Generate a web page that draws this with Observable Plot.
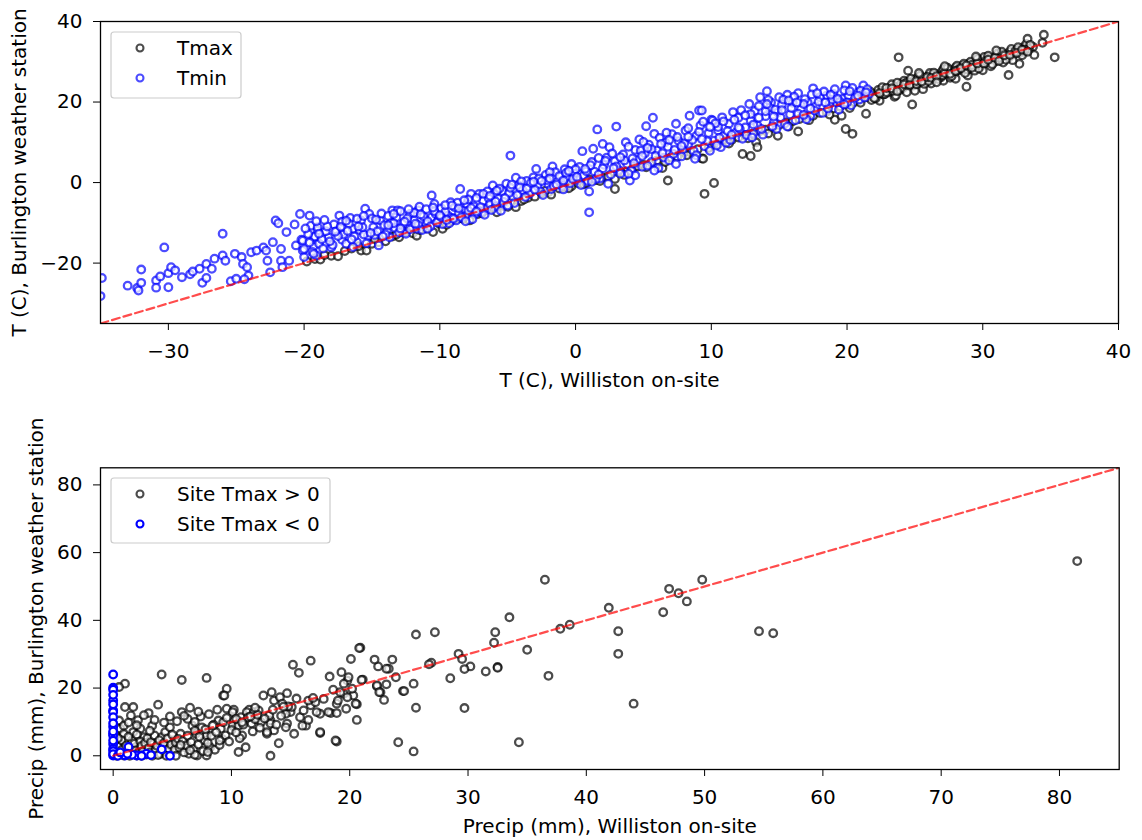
<!DOCTYPE html>
<html>
<head>
<meta charset="utf-8">
<script src="https://cdn.jsdelivr.net/npm/d3@7"></script>
<script src="https://cdn.jsdelivr.net/npm/@observablehq/plot@0.6"></script>
<style>
  body { margin: 0; background: #fff; }
  #wrap { width: 1142px; height: 840px; }
  #wrap svg { display: block; }
</style>
</head>
<body>
<div id="wrap"></div>
<script>
// ---------- Top panel: temperature (Williston on-site, Burlington station) ----------
const tmaxPoints = [
  [-19.8,-19.6],[-19.2,-19.0],[-18.8,-19.1],[-18.0,-18.2],[-17.5,-18.3],[-17.0,-17.0],[-16.5,-16.4],[-15.8,-16.9],[-15.4,-16.9],[-15.0,-15.2],
  [-14.5,-14.8],[-14.0,-14.6],[-13.5,-13.4],[-13.0,-13.6],[-12.5,-12.2],[-12.0,-12.6],[-11.7,-13.2],[-11.0,-11.4],[-10.5,-12.3],[-10.0,-10.3],
  [-9.8,-11.5],[-9.2,-9.6],[-8.6,-8.9],[-8.0,-8.4],[-7.8,-9.4],[-7.2,-7.8],[-6.6,-6.9],[-6.0,-6.4],[-5.8,-7.4],[-5.3,-5.8],
  [-4.8,-5.0],[-4.4,-6.1],[-4.0,-4.6],[-3.5,-3.8],[-3.0,-3.5],[-2.5,-2.6],[-2.0,-2.4],[-1.8,-3.0],[-1.2,-1.5],[-0.8,-1.2],
  [-0.3,-0.9],[0.2,-0.2],[0.6,-0.4],[1.0,0.8],[1.5,0.6],[2.0,1.2],[2.4,1.5],[2.9,-1.6],[2.9,0.9],[3.3,2.6],
  [3.8,2.8],[4.2,3.5],[4.6,4.0],[5.0,4.4],[5.5,4.6],[6.0,5.5],[6.4,3.6],[6.8,0.5],[7.0,6.2],[7.5,6.4],
  [8.0,7.5],[8.5,7.4],[9.0,8.3],[9.3,6.0],[9.4,5.9],[9.5,-2.8],[10.2,-0.1],[10.0,9.2],[10.5,9.5],[11.0,10.4],
  [11.5,10.6],[12.0,11.2],[12.3,7.1],[12.9,6.6],[12.5,11.8],[13.0,12.1],[13.3,10.0],[13.4,8.8],[13.6,12.8],[14.0,13.1],
  [14.5,13.6],[14.9,11.6],[15.0,14.3],[15.5,14.9],[16.0,15.2],[16.4,12.7],[16.5,15.8],[17.0,16.4],[17.5,16.6],[18.0,17.3],
  [18.5,17.6],[19.0,18.4],[19.1,15.6],[19.6,16.6],[19.9,13.3],[20.4,12.1],[19.5,18.9],[20.0,19.4],[20.5,19.9],[21.0,20.6],
  [21.4,17.1],[21.5,21.2],[21.8,20.5],[22.0,22.1],[22.2,21.4],[22.4,20.3],[22.5,22.8],[22.7,21.9],[23.0,23.3],[23.2,22.5],
  [23.5,23.9],[23.5,21.3],[23.6,21.6],[23.8,31.1],[23.8,23.2],[24.0,24.6],[24.3,23.9],[24.5,27.8],[24.5,25.0],[24.8,19.4],
  [24.8,24.3],[25.0,25.6],[25.3,24.8],[25.6,23.2],[25.5,26.0],[25.8,25.4],[26.0,26.5],[26.3,25.8],[26.5,27.0],[26.8,26.3],
  [27.0,27.6],[27.1,25.3],[27.3,26.9],[27.5,28.0],[27.8,27.4],[28.0,28.6],[28.3,27.9],[28.5,29.0],[28.8,23.8],[28.9,26.6],
  [28.8,28.4],[29.0,29.6],[29.3,28.9],[29.5,30.1],[29.8,29.3],[30.0,30.6],[30.3,29.8],[30.5,31.0],[30.8,30.4],[31.0,31.5],
  [31.3,30.8],[31.5,32.0],[31.9,26.7],[31.8,31.3],[32.0,32.5],[32.3,31.8],[32.5,33.0],[32.7,29.5],[32.8,32.4],[33.0,33.6],
  [33.2,34.4],[33.3,35.7],[33.7,33.7],[34.4,34.7],[34.5,36.7],[35.3,31.1],
  [22.3,23.0],[23.3,24.4],[24.2,25.3],[25.2,26.1],[26.1,27.2],[27.1,28.2],[28.1,29.0],[29.1,30.0],[30.1,31.2],[31.1,32.1],
  [32.1,33.2],[22.8,22.0],[23.9,23.0],[24.9,24.1],[25.9,25.0],[26.9,26.1],[27.9,27.1],[28.9,28.0],[29.9,29.0],[30.9,30.0],
  [31.9,31.0],[33.0,32.5],[33.4,33.2],[32.2,30.4],[30.6,28.9],[29.4,27.8],[27.6,26.0],[26.2,24.6],[25.0,22.8],[28.0,25.8],
  [30.0,27.9],[31.5,29.8],[33.8,31.7],
  [21.2,21.8],[21.7,22.6],[22.1,20.9],[22.6,23.7],[22.9,22.4],[23.4,22.8],[23.7,24.8],[24.1,23.4],[24.4,24.9],[24.7,25.8],
  [25.1,24.4],[25.4,26.6],[25.7,24.5],[26.0,25.2],[26.4,27.3],[26.7,25.7],[27.0,26.6],[27.4,28.5],[27.7,26.4],[28.2,28.1],
  [28.6,29.5],[28.7,27.2],[29.2,29.2],[29.6,30.7],[29.7,28.3],[30.2,30.2],[30.4,31.5],[30.7,29.4],[31.2,31.0],[31.4,32.5],
  [31.7,30.5],[32.4,32.6],[32.6,33.6],[32.9,31.6],[33.5,34.2],[33.1,33.0],
  [-18.5,-18.0],[-16.0,-15.8],[-14.8,-14.0],[-13.2,-12.9],[-11.5,-11.8],[-9.5,-10.5],[-8.3,-9.0],[-6.9,-7.6],[-5.0,-6.0],[-3.8,-4.2],
  [-2.2,-2.0],[-0.5,-1.4],[0.8,-0.1],[1.8,0.4],[3.6,1.9],[5.2,3.8],[6.6,5.1],[8.2,6.8],[9.8,8.6],[11.3,9.7],
  [12.7,11.0],[14.2,12.2],[15.7,13.9],[17.2,15.5],[18.7,16.9],[20.2,18.5],[21.0,19.8],
  [22.0,21.0],[22.4,22.2],[22.9,23.5],[23.3,23.4],[23.7,22.7],[24.2,24.4],[24.6,24.2],[25.1,25.2],[25.5,25.1],[25.9,26.2],
  [26.2,26.0],[26.6,26.4],[27.2,27.2],[27.6,27.0],[28.0,27.7],[28.4,28.4],[28.8,29.1],[29.2,28.5],[29.6,29.6],[30.1,29.6],
  [30.4,30.5],[30.9,31.0],[31.2,30.2],[31.6,31.6],[32.0,31.7],[32.5,32.2],[32.9,33.0],[33.3,32.5],[26.6,24.9],[24.4,22.4],
  [29.5,31.3],[27.2,28.9],[25.3,27.2],[31.0,32.8]
];

const tminPoints = [
  [-34.9,-23.7],[-35.0,-28.2],[-33.0,-25.6],[-32.3,-26.2],[-32.2,-26.8],[-32.0,-24.9],[-32.0,-21.6],[-30.9,-24.3],[-30.9,-26.1],[-30.3,-16.1],
  [-30.6,-23.3],[-30.0,-26.0],[-30.0,-22.5],[-29.8,-21.0],[-29.5,-21.8],[-29.0,-23.5],[-28.4,-22.8],[-28.2,-22.1],[-27.5,-24.9],[-27.2,-23.7],
  [-27.7,-21.4],[-27.2,-20.2],[-26.8,-21.4],[-26.6,-18.9],[-26.0,-12.7],[-26.0,-18.1],[-25.8,-19.4],[-25.4,-24.5],[-25.1,-17.7],[-25.0,-23.9],
  [-24.6,-18.5],[-24.5,-20.2],[-24.2,-21.0],[-24.1,-23.1],[-24.4,-24.0],[-23.9,-17.3],[-23.5,-16.9],[-23.0,-16.1],[-22.8,-16.9],[-22.7,-19.4],
  [-22.5,-22.3],[-22.3,-14.8],[-22.1,-9.4],[-21.9,-10.1],[-21.7,-16.5],[-21.7,-19.4],[-21.6,-21.0],[-21.3,-12.3],[-21.1,-19.4],[-20.7,-10.4],
  [-20.6,-15.6],[-20.3,-7.8],[-20.2,-14.2],[-20.1,-16.9],[-20.0,-18.5],[-19.6,-8.2],[-19.5,-10.7],[-19.3,-13.6],[-19.3,-15.9],[-19.1,-18.1],
  [-19.0,-11.9],[-19.4,-17.2],[-18.9,-15.2],[-18.6,-16.4],
  [-19.0,-11.1],[-20.1,-14.4],[-20.0,-16.5],[-19.3,-17.7],[-19.2,-13.4],[-18.2,-13.6],[-18.0,-16.1],[-17.6,-11.9],[-17.4,-8.2],[-17.2,-14.2],
  [-16.9,-15.2],[-16.6,-8.8],[-16.4,-11.5],[-16.1,-14.8],[-15.8,-9.4],[-15.5,-6.5],[-15.3,-13.2],[-15.2,-7.8],[-14.9,-11.1],[-14.5,-15.6],
  [-14.4,-9.4],[-13.9,-11.9],[-13.7,-13.6],[-13.5,-6.9],[-13.2,-8.6],[-13.1,-6.9],[-12.8,-12.3],[-12.5,-12.7],[-12.2,-7.8],[-11.9,-9.4],
  [-11.6,-6.9],[-11.5,-6.0],[-11.0,-10.3],[-10.6,-3.2],[-10.6,-8.6],[-10.4,-5.3],[-10.3,-7.8],[-9.8,-10.3],[-9.4,-8.2],[-9.2,-4.9],
  [-8.8,-9.4],[-8.5,-1.6],[-8.3,-6.9],[-8.0,-5.3],[-7.7,-2.8],[-7.4,-7.8],[-7.1,-2.8],[-6.8,-4.5],[-6.6,-6.5],[-6.1,-0.7],
  [-6.0,-2.8],[-5.7,-4.0],[-5.1,-0.3],[-4.8,6.7],[-4.6,-3.6],[-4.4,1.2],[-4.2,-0.7],
  [-18.4,-12.1],[-17.8,-10.4],[-17.1,-12.9],[-16.7,-10.2],[-16.3,-13.4],[-15.9,-11.8],[-15.6,-12.9],[-14.8,-13.0],[-14.1,-10.6],[-13.6,-9.9],
  [-13.3,-11.3],[-12.7,-10.1],[-12.4,-8.9],[-12.0,-11.0],[-11.7,-11.5],[-11.2,-8.4],[-10.9,-9.6],[-10.1,-9.2],[-9.9,-6.4],[-9.6,-7.3],
  [-9.1,-8.8],[-8.9,-6.1],[-8.6,-7.7],[-8.1,-8.3],[-7.9,-4.2],[-7.5,-5.9],[-7.2,-6.8],[-6.9,-7.3],[-6.4,-3.9],[-6.3,-5.4],
  [-5.9,-6.0],[-5.4,-2.1],[-5.3,-4.8],[-4.9,-2.6],[-4.5,-5.1],
  [-2.9,3.4],[-1.7,4.0],[-0.3,4.6],[0.5,7.8],[1.0,-2.2],[1.0,-7.4],[1.3,8.4],[1.6,13.2],[2.0,9.6],[2.5,8.8],
  [3.0,13.9],[3.7,10.0],[4.0,0.5],[4.7,10.7],[5.2,14.0],[5.7,16.1],[5.8,12.1],[6.6,10.0],[7.4,14.6],[8.4,16.6],
  [9.1,17.9],[10.0,15.6],[10.5,12.9],
  [-3.9,-1.9],[-3.6,0.4],[-3.4,-2.8],[-3.1,1.3],[-2.8,-0.9],[-2.6,-2.2],[-2.2,1.9],[-2.0,-0.4],[-1.8,-1.6],[-1.5,2.6],
  [-1.3,0.3],[-1.0,-0.8],[-0.8,3.3],[-0.6,1.1],[-0.4,-0.2],[-0.1,2.2],[0.2,0.6],[0.3,3.9],[0.6,1.8],[0.9,0.4],
  [1.2,5.1],[1.4,2.7],[1.8,1.0],[2.1,4.4],[2.3,6.2],[2.6,2.0],[2.9,5.3],[3.2,3.1],[3.5,7.0],[3.8,4.6],
  [4.1,2.9],[4.4,8.1],[4.5,5.6],[4.9,3.9],[5.1,7.2],[5.4,9.4],[5.6,5.1],[6.0,8.0],[6.2,11.1],[6.5,6.2],
  [6.8,8.9],[7.1,12.0],[7.2,7.1],[7.6,10.3],[7.9,8.2],[8.1,12.9],[8.3,9.6],[8.7,7.9],[8.9,11.6],[9.2,14.2],
  [9.5,9.0],[9.8,12.3],
  [9.3,17.9],[10.1,15.4],[11.6,17.5],[12.8,19.5],[13.6,21.2],[14.1,22.7],[14.4,19.9],[15.0,21.2],[15.6,21.8],[16.4,22.2],
  [17.1,19.9],[17.5,23.4],[18.5,21.6],[19.2,19.9],[19.9,24.1],[20.7,22.4],[21.2,24.1],[21.6,22.0],[10.7,8.8],[13.1,12.1],
  [14.8,13.3],
  [10.2,10.4],[10.5,13.8],[10.9,11.5],[11.1,9.9],[11.3,14.6],[11.8,12.4],[12.0,16.1],[12.3,10.9],[12.5,13.7],[12.9,15.4],
  [13.2,17.8],[13.4,14.2],[13.8,11.9],[14.0,16.5],[14.3,18.6],[14.6,15.0],[14.9,17.4],[15.2,19.3],[15.4,14.6],[15.8,16.9],
  [16.0,19.8],[16.2,15.5],[16.6,18.2],[16.9,20.7],[17.3,16.6],[17.7,18.9],[18.0,21.2],[18.2,17.3],[18.7,19.6],[19.0,22.0],
  [19.4,18.1],[19.7,20.8],[20.1,21.6],[20.3,19.2],[20.9,20.6],[21.3,21.1],
  [-19.7,-12.8],[-19.1,-9.6],[-18.7,-14.1],[-18.3,-10.9],[-17.9,-15.5],[-17.5,-13.3],[-17.2,-9.7],[-16.8,-12.0],[-16.4,-16.0],[-16.1,-9.0],
  [-15.7,-11.1],[-15.4,-15.1],[-15.0,-8.9],[-14.6,-12.1],[-14.3,-7.7],[-14.0,-12.9],[-13.8,-8.3],[-13.4,-10.1],[-13.0,-12.4],[-12.9,-7.1],
  [-12.6,-9.7],[-12.2,-11.6],[-11.9,-7.5],[-11.6,-10.5],[-11.3,-11.8],[-11.0,-6.6],[-10.7,-10.9],[-10.4,-7.1],[-10.2,-9.9],[-9.9,-8.6],
  [-9.6,-5.6],[-9.3,-10.1],[-9.0,-9.0],[-8.7,-5.0],[-8.4,-8.6],[-8.2,-4.4],[-7.9,-7.0],[-7.6,-9.1],[-7.3,-3.8],[-7.0,-6.1],
  [-6.7,-8.0],[-6.5,-2.2],[-6.2,-6.8],[-5.9,-4.7],[-5.6,-1.5],[-5.5,-7.0],[-5.0,-5.7],[-4.8,-1.3],[-4.3,-3.1],[-4.0,0.3],
  [-3.7,-3.6],[-3.3,-0.1],[-3.0,-1.8],[-2.7,1.0],[-2.4,-3.1],[-2.1,0.6],[-1.9,2.6],[-1.6,-0.9],[-1.2,1.6],[-0.9,-1.7],
  [-0.7,2.4],[-0.2,0.9],[0.0,3.3],
  [0.4,-0.6],[0.8,2.8],[1.1,4.3],[1.5,0.9],[1.7,6.1],[2.0,3.5],[2.4,-0.3],[2.7,7.2],[3.0,4.0],[3.3,2.2],
  [3.6,5.5],[3.9,8.9],[4.2,6.0],[4.4,1.8],[4.8,7.9],[5.0,10.1],[5.3,4.2],[5.6,8.3],[5.9,6.6],[6.1,3.6],
  [6.3,9.6],[6.7,12.4],[6.9,5.5],[7.3,8.1],[7.5,11.3],[7.8,6.5],[8.0,9.7],[8.3,13.5],[8.6,10.6],[8.9,6.8],
  [9.1,12.6],[9.4,15.1],[9.7,10.3],[9.9,7.9],[10.3,14.7],[10.6,11.1],[10.8,16.2],[11.2,12.8],[11.4,10.6],[11.7,15.6],
  [12.1,13.3],[12.2,18.0],[12.6,11.8],[12.9,17.0],[13.1,14.4],[13.5,19.0],[13.7,13.3],[14.0,17.7],[14.2,20.5],[14.5,14.0],
  [14.7,18.1],[15.1,16.2],[15.3,20.6],[15.6,13.9],[15.9,18.5],[16.1,21.3],[16.4,17.1],[16.8,19.5],[17.0,15.7],[17.4,21.9],
  [17.6,17.9],[17.9,20.1],[18.3,22.6],[18.6,18.4],[18.9,20.6],[19.1,23.2],[19.5,20.0],[19.8,22.9],[20.0,19.9],[20.4,23.5],
  [20.6,21.1],[21.0,22.8],[21.5,23.2],
  [-19.9,-11.4],[-19.6,-14.9],[-18.9,-12.7],[-18.5,-9.3],[-18.1,-14.6],[-17.7,-12.2],[-17.3,-11.0],[-16.9,-9.5],[-16.5,-14.1],[-16.0,-10.9],
  [-15.6,-8.3],[-15.1,-12.5],[-14.7,-9.2],[-14.2,-13.4],[-13.8,-10.6],[-13.4,-7.8],[-12.9,-11.4],[-12.3,-6.6],[-11.8,-10.2],[-11.4,-7.9],
  [-10.9,-11.5],[-10.5,-6.2],[-10.0,-8.1],[-9.5,-9.3],[-9.1,-5.7],[-8.6,-6.4],[-8.1,-9.6],[-7.7,-6.3],[-7.3,-7.2],[-6.8,-2.8],
  [-6.3,-3.3],[-5.8,-2.0],[-5.2,-3.9],[-4.7,-0.5],[-4.1,-1.2],[-3.6,-1.5],[-3.1,0.2],[-2.5,0.4],[-1.9,1.0],[-1.4,-0.5],
  [-0.9,0.5],[-0.5,2.9],[0.1,1.4],[0.7,3.4],[1.2,0.2],[1.7,2.0],[2.2,5.4],[2.8,3.6],[3.3,6.3],[3.9,2.2],
  [4.3,4.8],[4.9,6.6],[5.3,8.6],[5.8,3.0],[6.4,7.3],[6.9,10.6],[7.4,4.6],[7.8,9.1],[8.3,11.4],[8.8,5.9],
  [9.3,10.8],[9.9,13.8],[10.4,9.2],[10.9,15.2],[11.5,11.9],[12.0,13.7],[12.5,16.7],[13.0,11.2],[13.5,16.1],[14.1,19.5],
  [14.6,16.4],[15.2,18.0],[15.7,20.4],[16.3,19.9],[16.8,16.8],[17.3,18.4],[17.8,22.2],[18.4,19.9],[18.8,21.8],[19.3,20.8],
  [19.8,19.4],[20.2,22.7],[20.8,21.6],[21.4,22.4]
];

// ---------- Bottom panel: precipitation ----------
const precipWarm = [
  [36.5,52.0],[49.8,52.0],[47.0,49.3],[47.8,48.0],[48.5,45.6],[46.5,42.4],[41.9,43.7],[33.5,40.9],[37.8,37.5],[38.6,38.7],
  [42.7,36.8],[42.7,30.1],[32.3,36.5],[32.2,33.4],[35.0,31.3],[36.8,23.6],[44.0,15.4],[34.3,4.0],[54.6,36.8],[55.8,36.2],
  [81.5,57.5],[25.6,35.8],[27.2,36.5],[29.2,30.1],[29.5,28.6],[26.9,27.5],[26.7,27.0],[30.2,26.4],[29.7,25.6],[31.5,24.9],
  [32.5,26.2],[32.5,26.0],[28.5,22.9],[29.7,14.1],[25.6,14.2],[24.1,4.0],[25.4,1.3],[24.5,19.1],[24.6,19.1],[25.4,21.3],
  [23.9,23.2],[23.6,28.4],[23.3,25.7],[23.1,25.7],[22.4,26.4],[22.1,28.4],[22.3,20.5],[22.6,18.8],[22.9,16.5],[23.1,21.1],
  [21.1,22.5],[20.9,31.9],
  [1.0,21.3],[0.5,20.3],[1.0,14.4],[1.7,14.4],[1.5,11.9],[3.0,12.6],[3.8,15.1],[4.1,24.0],[5.8,22.4],[7.9,23.0],
  [4.8,11.6],[3.3,8.9],[6.5,14.2],[7.4,11.6],[8.8,13.6],[9.3,17.8],[9.6,19.8],[10.2,13.6],[11.5,13.6],[10.9,6.0],
  [10.6,1.1],[11.2,2.5],[12.7,17.8],[13.4,18.8],[13.3,0.0],[14.0,3.7],[14.7,18.5],[15.2,26.9],[15.7,24.5],[16.7,28.1],
  [15.3,6.5],[17.5,6.7],[18.3,23.4],[18.9,4.2],[19.3,24.7],[20.1,28.6],[20.8,31.8],[20.6,10.6],[19.7,13.9],[19.5,18.3],
  [20.3,17.8],[20.6,15.2],[18.9,15.4],[19.8,22.2],[21.0,22.4],[18.4,12.6],[18.9,12.6],[16.7,14.9],[17.1,15.8],[17.5,12.4],
  [16.3,8.9],[15.0,12.9],[14.6,12.4],[14.7,9.5],[13.6,7.5],[13.0,6.5],[13.3,10.4],[12.5,9.9],
  [0.5,10.4],[0.6,8.0],[0.2,6.0],[0.9,6.5],[1.7,7.0],[2.3,8.0],[2.6,5.5],[1.6,4.5],[0.6,3.5],[2.2,2.5],
  [3.4,3.5],[4.1,5.5],[4.4,7.0],[4.8,8.4],[5.1,4.5],[5.7,6.5],[5.8,12.9],[6.3,10.9],[6.7,8.9],[6.1,2.5],
  [6.4,0.6],[7.1,0.1],[7.0,6.5],[7.5,8.4],[7.7,4.5],[7.9,6.0],[7.9,0.1],[8.2,2.5],[8.9,10.4],[9.1,8.0],
  [9.2,5.0],[9.4,17.8],[9.6,13.9],[10.1,12.9],[10.2,10.4],[10.1,8.9],[10.6,8.9],[10.8,11.4],[11.3,12.9],[11.7,9.5],
  [11.9,12.9],[12.3,13.4],[13.2,11.9],[13.3,9.5],[13.0,7.0],[13.6,16.3],[14.1,17.3],[14.3,15.4],[14.6,8.4],[15.1,14.4],
  [15.8,11.4],[16.0,8.9],[16.5,16.3],[16.5,10.6],[17.2,12.9],[17.5,7.0],[18.2,12.9],[18.8,4.5],[19.0,16.3],[19.5,21.3],
  [19.8,17.3],[19.9,23.2],[20.2,19.8],[20.5,15.4],[22.3,20.8],[22.5,18.8],
  [0.2,0.4],[0.3,1.5],[0.4,2.8],[0.5,0.9],[0.7,4.6],[0.8,1.9],[1.0,0.3],[1.1,3.0],[1.2,1.2],[1.3,5.6],
  [1.4,2.2],[1.6,0.5],[1.8,3.6],[1.9,1.6],[2.0,6.3],[2.1,0.8],[2.3,4.2],[2.4,2.9],[2.5,1.3],[2.7,3.8],
  [2.8,0.4],[2.9,5.2],[3.0,2.3],[3.1,1.0],[3.2,4.0],[3.5,6.0],[3.6,1.7],[3.7,3.0],[3.9,4.6],[4.0,0.6],
  [4.2,2.6],[4.3,3.8],[4.5,1.2],[4.6,5.1],[4.7,2.0],[4.9,3.3],[5.0,6.2],[5.2,1.8],[5.3,3.9],[5.5,5.0],
  [5.6,2.4],[5.9,4.4],[6.0,1.0],[6.2,3.1],[6.3,5.9],[6.6,4.0],[6.8,2.0],[6.9,7.4],[7.2,3.3],[7.3,5.6],
  [7.6,1.4],[7.8,7.8],[8.0,3.8],[8.3,5.9],[8.5,9.2],[8.6,1.8],[8.7,7.0],[9.0,3.2],[9.3,9.9],[9.5,6.0],
  [9.8,4.2],[10.0,7.6],[10.4,10.9],[10.7,5.2],[11.0,9.2],[11.4,11.3],[11.8,7.2],[12.0,10.8],[12.2,12.1],[12.8,11.0],
  [13.5,13.6],[14.2,11.8],[14.8,14.6],[15.5,16.9],[16.1,13.4],[16.9,17.1],[17.8,16.8],[18.6,19.5],[19.2,18.8],
  [0.3,0.0],[1.4,0.0],[2.4,0.0],[3.3,0.0],[4.5,0.0],[5.3,0.0],[6.9,0.3],[3.8,0.2],[2.0,0.1],[0.9,0.1],
  [0.4,5.2],[0.9,8.9],[1.3,9.8],[2.1,10.5],[2.6,12.0],[3.5,10.6],[4.3,9.8],[5.4,10.2],[6.0,11.8],[6.9,10.0],
  [7.2,13.0],[8.1,12.3],[8.4,8.9],[9.6,11.2],[10.9,9.9],[11.6,11.6],[12.4,8.3],[13.8,9.2],[14.4,14.5],[12.0,14.2],
  [10.4,6.9],[9.0,4.5],[8.0,1.1],[6.5,1.6],[5.7,3.2],[3.1,7.4],[2.0,9.0]
];

const precipCold = [
  [0,24.0],[0,20.1],[0,19.5],[0,16.3],[0,13.4],[0,12.9],[0,11.4],[0,8.6],[0,6.5],[0,6.0],
  [0,3.5],[0,2.1],[0,1.4],[0,0.1],[0,0.5],[0,4.5],[0,9.6],[0,15.2],[0,18.0],[0,7.2],
  [1.3,2.6],[2.8,0.6],[4.1,1.9],[4.8,0.0],[3.2,0.2],[2.0,0.1],[1.0,0.1],[0.4,0.0],[1.6,0.3],[2.4,0.0],
  [0.6,1.0],[1.2,0.6]
];

// reference 1:1 lines and axes
const refTop = [-35, 40];
const refBottom = [0, 85];
const topDomain = [-35, 40];
const topTicksX = [-30, -20, -10, 0, 10, 20, 30, 40];
const topTicksY = [-20, 0, 20, 40];
const bottomDomainX = [-1.07, 85.05];
const bottomDomainY = [-4.05, 85.05];
const bottomTicksX = [0, 10, 20, 30, 40, 50, 60, 70, 80];
const bottomTicksY = [0, 20, 40, 60, 80];

const topLabels = { x: "T (C), Williston on-site", y: "T (C), Burlington weather station" };
const bottomLabels = { x: "Precip (mm), Williston on-site", y: "Precip (mm), Burlington weather station" };
const topLegend = [{label: "Tmax", color: "black", opacity: 0.7}, {label: "Tmin", color: "blue", opacity: 0.7}];
const bottomLegend = [{label: "Site Tmax > 0", color: "black", opacity: 0.7}, {label: "Site Tmax < 0", color: "blue", opacity: 1}];

const FONT = "DejaVu Sans";
const FS = 20;
const R = 3.8;
const SW = 2.3;

function dotOpts(color, op) {
  return {x: d => d[0], y: d => d[1], r: R, stroke: color, strokeOpacity: op, strokeWidth: SW,
          fill: "white", fillOpacity: 0.7, clip: true};
}

function axisLabels(labels, dxY, dyX) {
  return [
    Plot.text([labels.x], {text: d => d, frameAnchor: "bottom", dy: dyX, lineAnchor: "middle", textAnchor: "middle", fontSize: FS, fill: "black"}),
    Plot.text([labels.y], {text: d => d, frameAnchor: "left", rotate: -90, dx: dxY, lineAnchor: "middle", textAnchor: "middle", fontSize: FS, fill: "black"})
  ];
}

const common = {
  width: 1142, height: 420, marginLeft: 100,
  style: {fontFamily: FONT, fontSize: FS + "px", color: "black", background: "white", overflow: "visible"}
};

const topPlot = Plot.plot({
  ...common,
  marginRight: 24, marginTop: 21, marginBottom: 97,
  x: {domain: topDomain, ticks: topTicksX, label: null, tickSize: 7, tickPadding: 13},
  y: {domain: topDomain, ticks: topTicksY, label: null, tickSize: 7, tickPadding: 11},
  marks: [
    Plot.dot(tmaxPoints, dotOpts("black", 0.7)),
    Plot.dot(tminPoints, dotOpts("blue", 0.7)),
    Plot.line(refTop.map(v => ({v})), {x: "v", y: "v", stroke: "red", strokeOpacity: 0.7, strokeWidth: 2.2, strokeDasharray: "8,4", clip: true}),
    Plot.frame({stroke: "black", strokeWidth: 1.3}),
    ...axisLabels(topLabels, -81, 57)
  ]
});

const bottomPlot = Plot.plot({
  ...common,
  marginRight: 23.3, marginTop: 47.3, marginBottom: 71,
  x: {domain: bottomDomainX, ticks: bottomTicksX, label: null, tickSize: 7, tickPadding: 13},
  y: {domain: bottomDomainY, ticks: bottomTicksY, label: null, tickSize: 7, tickPadding: 11},
  marks: [
    Plot.dot(precipWarm, dotOpts("black", 0.7)),
    Plot.dot(precipCold, {...dotOpts("blue", 1), fillOpacity: 1}),
    Plot.line(refBottom.map(v => ({v})), {x: "v", y: "v", stroke: "red", strokeOpacity: 0.7, strokeWidth: 2.2, strokeDasharray: "8,4", clip: true}),
    Plot.frame({stroke: "black", strokeWidth: 1.3}),
    ...axisLabels(bottomLabels, -64, 57)
  ]
});

function addLegend(svgNode, x, y, w, h, items) {
  const svg = d3.select(svgNode);
  const g = svg.append("g").attr("text-anchor", "start");
  g.append("rect").attr("x", x).attr("y", y).attr("width", w).attr("height", h)
    .attr("rx", 3).attr("fill", "white").attr("fill-opacity", 0.8)
    .attr("stroke", "#cccccc").attr("stroke-width", 1.2);
  items.forEach((it, i) => {
    const cy = y + 16 + 30 * i;
    g.append("circle").attr("cx", x + 29).attr("cy", cy).attr("r", 3.5)
      .attr("fill", "white").attr("stroke", it.color).attr("stroke-opacity", it.opacity)
      .attr("stroke-width", 2.1);
    g.append("text").attr("x", x + 66).attr("y", cy).attr("dy", "0.35em")
      .attr("text-anchor", "start")
      .attr("font-family", FONT).attr("font-size", FS).attr("fill", "black").text(it.label);
  });
}

addLegend(topPlot, 111, 32, 130, 66, topLegend);
addLegend(bottomPlot, 111, 58, 219, 65, bottomLegend);

const wrap = document.getElementById("wrap");
wrap.appendChild(topPlot);
wrap.appendChild(bottomPlot);
</script>
</body>
</html>
